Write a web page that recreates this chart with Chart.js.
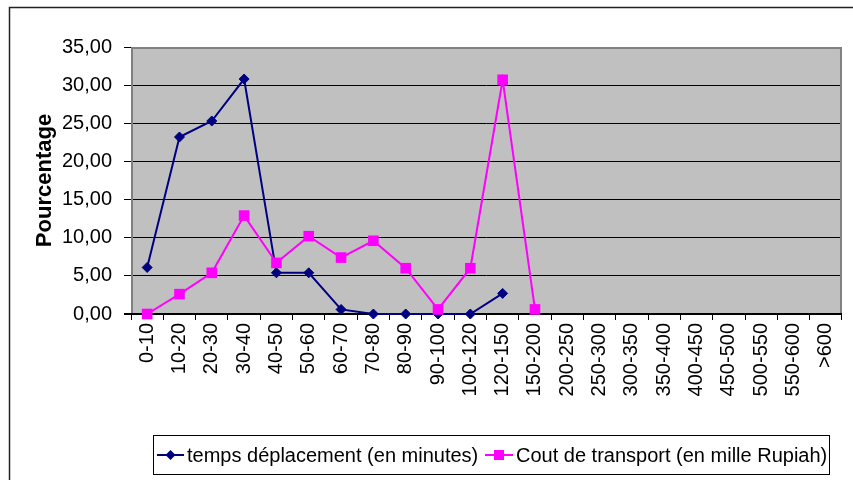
<!DOCTYPE html>
<html>
<head>
<meta charset="utf-8">
<script src="https://cdn.jsdelivr.net/npm/chart.js@4/dist/chart.umd.min.js"></script>
<style>
html,body{margin:0;padding:0;background:#fff;}
#wrap{position:relative;width:853px;height:480px;}
</style>
</head>
<body>
<div id="wrap"><canvas id="c" width="853" height="480"></canvas></div>
<script>
const categories = ["0-10","10-20","20-30","30-40","40-50","50-60","60-70","70-80","80-90","90-100","100-120","120-150","150-200","200-250","250-300","300-350","350-400","400-450","450-500","500-550","550-600",">600"];
const tempsDeplacement = [6.1,23.2,25.3,30.8,5.4,5.4,0.6,0,0,0,0,2.7,null,null,null,null,null,null,null,null,null,null];
const coutTransport = [0,2.6,5.4,12.9,6.7,10.2,7.4,9.6,6.0,0.6,6.0,30.7,0.6,null,null,null,null,null,null,null,null,null];
const seriesNames = ["temps déplacement (en minutes)","Cout de transport (en mille Rupiah)"];
const yTitle = "Pourcentage";
const yMin = 0, yMax = 35, yStep = 5;

const BLUE = '#000080', PINK = '#FF00FF';
const FONT = "'Liberation Sans', Arial, sans-serif";
Chart.defaults.font.family = FONT;
Chart.defaults.color = '#000';

const framePlugin = {
  id: 'frame',
  beforeDraw(chart) {
    const {ctx, chartArea: a} = chart;
    ctx.save();
    ctx.fillStyle = '#fff';
    ctx.fillRect(0, 0, chart.width, chart.height);
    ctx.strokeStyle = '#222';
    ctx.lineWidth = 1.5;
    ctx.beginPath();
    ctx.moveTo(9.5, chart.height);
    ctx.lineTo(9.5, 7.5);
    ctx.lineTo(chart.width, 7.5);
    ctx.stroke();
    ctx.fillStyle = '#C0C0C0';
    ctx.fillRect(a.left, a.top, a.right - a.left, a.bottom - a.top);
    ctx.restore();
  },
  beforeDatasetsDraw(chart) {
    const {ctx, chartArea: a} = chart;
    ctx.save();
    ctx.strokeStyle = '#808080';
    ctx.lineWidth = 2;
    ctx.beginPath();
    ctx.moveTo(a.left + 1, a.bottom);
    ctx.lineTo(a.left + 1, a.top + 1);
    ctx.lineTo(a.right - 1, a.top + 1);
    ctx.lineTo(a.right - 1, a.bottom);
    ctx.stroke();
    ctx.strokeStyle = '#000';
    ctx.lineWidth = 2;
    ctx.beginPath();
    ctx.moveTo(a.left - 7, a.bottom);
    ctx.lineTo(a.right, a.bottom);
    ctx.stroke();
    ctx.restore();
  },
  afterDraw(chart) {
    const {ctx} = chart;
    ctx.save();
    const bx = 153.5, by = 435.5, bw = 676, bh = 39;
    ctx.strokeStyle = '#000';
    ctx.lineWidth = 1;
    ctx.strokeRect(bx, by, bw, bh);
    const cy = by + bh / 2;
    ctx.font = '20px ' + FONT;
    ctx.textBaseline = 'middle';
    const items = [
      {x1: 157, x2: 184, text: seriesNames[0], tx: 187, color: BLUE, style: 'diamond'},
      {x1: 485, x2: 513, text: seriesNames[1], tx: 516, color: PINK, style: 'square'}
    ];
    items.forEach(it => {
      ctx.strokeStyle = it.color;
      ctx.lineWidth = 2;
      ctx.beginPath();
      ctx.moveTo(it.x1, cy);
      ctx.lineTo(it.x2, cy);
      ctx.stroke();
      const mx = (it.x1 + it.x2) / 2;
      ctx.fillStyle = it.color;
      if (it.style === 'diamond') {
        ctx.beginPath();
        ctx.moveTo(mx, cy - 5);
        ctx.lineTo(mx + 5, cy);
        ctx.lineTo(mx, cy + 5);
        ctx.lineTo(mx - 5, cy);
        ctx.closePath();
        ctx.fill();
      } else {
        ctx.fillRect(mx - 5, cy - 5, 10, 10);
      }
      ctx.fillStyle = '#000';
      ctx.fillText(it.text, it.tx, cy + 1);
    });
    ctx.restore();
  }
};

new Chart(document.getElementById('c'), {
  type: 'line',
  data: {
    labels: categories,
    datasets: [
      {
        label: seriesNames[0],
        data: tempsDeplacement,
        borderColor: BLUE,
        backgroundColor: BLUE,
        borderWidth: 2,
        pointStyle: 'rectRot',
        pointRadius: 5,
        pointBorderWidth: 1,
        pointBackgroundColor: BLUE,
        pointBorderColor: BLUE,
        tension: 0,
        spanGaps: false,
        clip: false,
        order: 1
      },
      {
        label: seriesNames[1],
        data: coutTransport,
        borderColor: PINK,
        backgroundColor: PINK,
        borderWidth: 2,
        pointStyle: 'rect',
        pointRadius: 7.5,
        pointBorderWidth: 0,
        pointBackgroundColor: PINK,
        pointBorderColor: PINK,
        tension: 0,
        spanGaps: false,
        clip: false,
        order: 0
      }
    ]
  },
  options: {
    responsive: false,
    animation: false,
    events: [],
    layout: {padding: {top: 47, right: 6, bottom: 45, left: 0}},
    plugins: {legend: {display: false}, tooltip: {enabled: false}},
    scales: {
      x: {
        type: 'category',
        offset: true,
        grid: {
          offset: true,
          drawOnChartArea: false,
          drawTicks: true,
          tickLength: 6,
          tickColor: '#000',
          tickWidth: 1
        },
        border: {display: false},
        ticks: {
          autoSkip: false,
          minRotation: 90,
          maxRotation: 90,
          padding: 3,
          color: '#000',
          font: {size: 20}
        },
        afterFit(scale) { scale.height = 121; }
      },
      y: {
        min: yMin,
        max: yMax,
        grid: {
          color: ctx => (ctx.tick && ctx.tick.value === yMax) ? 'rgba(0,0,0,0)' : '#000',
          lineWidth: 1,
          drawTicks: true,
          tickLength: 7,
          tickColor: '#000',
          tickWidth: 1
        },
        border: {display: false},
        ticks: {
          stepSize: yStep,
          padding: 12,
          color: '#000',
          font: {size: 20},
          callback: v => v.toFixed(2).replace('.', ',')
        },
        title: {
          display: true,
          text: yTitle,
          color: '#000',
          font: {size: 22, weight: 'bold'},
          padding: {top: 32, bottom: 0}
        },
        afterFit(scale) { scale.width = 131; }
      }
    }
  },
  plugins: [framePlugin]
});
</script>
</body>
</html>
